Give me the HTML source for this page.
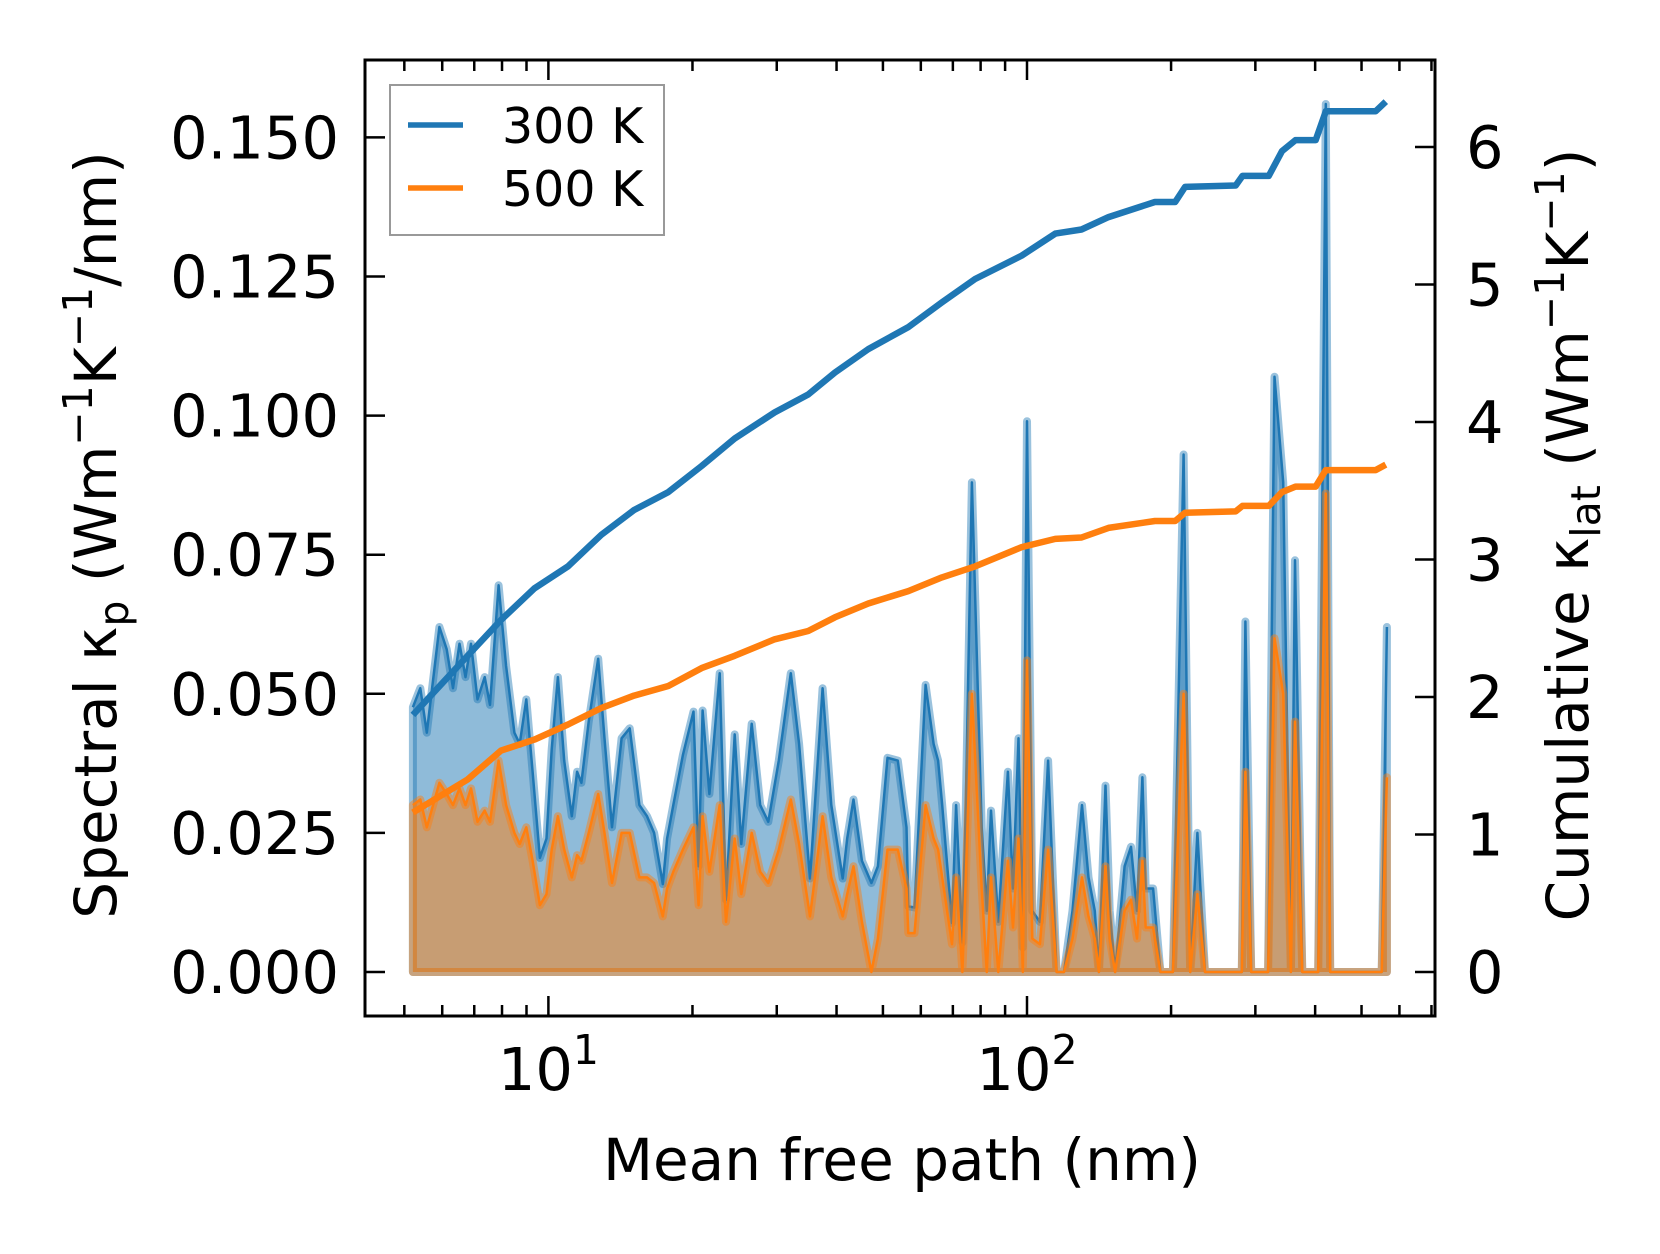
<!DOCTYPE html>
<html><head><meta charset="utf-8"><style>
html,body{margin:0;padding:0;background:#fff;}
svg{display:block;font-family:"DejaVu Sans","Liberation Sans",sans-serif;}
</style></head><body>
<svg id="chart" width="1660" height="1254" viewBox="0 0 1660 1254" xmlns="http://www.w3.org/2000/svg">
<rect width="1660" height="1254" fill="#fff"/>
<g id="plot"></g>
<g id="axes"></g>
<text x="902" y="1180" font-size="58" text-anchor="middle">Mean free path (nm)</text>
<text transform="translate(116,535) rotate(-90)" font-size="58" text-anchor="middle">Spectral κ<tspan dy="12" font-size="41">p</tspan><tspan dy="-12"> (Wm</tspan><tspan dy="-24" font-size="41">−1</tspan><tspan dy="24">K</tspan><tspan dy="-24" font-size="41">−1</tspan><tspan dy="24">/nm)</tspan></text>
<text transform="translate(1588,535) rotate(-90)" font-size="58" text-anchor="middle">Cumulative κ<tspan dy="12" font-size="41">lat</tspan><tspan dy="-12"> (Wm</tspan><tspan dy="-24" font-size="41">−1</tspan><tspan dy="24">K</tspan><tspan dy="-24" font-size="41">−1</tspan><tspan dy="24">)</tspan></text>
<g>
<rect x="390" y="85" width="274" height="150" fill="#fff" fill-opacity="0.8" stroke="#999" stroke-width="2"/>
<line x1="408" y1="125" x2="463" y2="125" stroke="#1f77b4" stroke-width="5.5"/>
<text x="502" y="143" font-size="49">300 K</text>
<line x1="408" y1="188" x2="463" y2="188" stroke="#ff7f0e" stroke-width="5.5"/>
<text x="502" y="206" font-size="49">500 K</text>
</g>
</svg>
<script>
const mfp = [5.21,5.40,5.57,5.92,6.13,6.32,6.52,6.71,6.89,7.11,7.36,7.55,7.87,8.16,8.49,8.71,8.99,9.27,9.60,9.91,10.16,10.47,10.79,11.19,11.48,11.72,12.14,12.71,13.10,13.58,14.22,14.79,15.49,16.07,16.63,17.34,17.70,18.24,19.10,20.1,20.6,21.0,21.7,22.8,23.5,24.5,25.3,26.6,27.7,28.8,30.3,32.1,33.4,35.2,37.4,39.0,41.2,42.1,43.4,45.2,47.3,48.8,51.1,53.7,56.0,56.5,58.2,61.4,63.8,65.2,66.5,69.7,71.1,73.3,74.5,76.7,80.4,82.4,84.1,87.1,91.2,93.5,96.0,98.0,100,102.6,106.4,110.7,115.3,119.5,124.5,130.3,134.4,138.6,141.3,145.9,148.9,152.8,159.9,164.9,169.8,174.2,177.0,183.4,190.0,201.8,212.4,219.3,227.0,235.5,281,286,294,319,329,343,356,363,376,394,406,421,430,551,565];
const spec300 = [.0476,.051,.043,.062,.058,.051,.059,.053,.059,.049,.053,.048,.0695,.055,.043,.041,.049,.036,.0205,.024,.040,.053,.038,.028,.036,.034,.045,.0563,.042,.026,.042,.0438,.030,.028,.025,.0158,.024,.030,.039,.0468,.019,.047,.032,.0537,.013,.0427,.023,.0446,.030,.027,.038,.0537,.041,.0168,.051,.030,.0168,.024,.031,.020,.016,.019,.0385,.038,.026,.0118,.0116,.0516,.041,.038,.030,.0088,.030,.0053,.030,.088,.026,.011,.029,.009,.036,.015,.042,.0044,.099,.011,.009,.038,0,0,.011,.030,.017,.011,0,.0335,.011,0,.019,.0225,.011,.035,.015,.015,0,0,.093,0,.025,0,0,.063,0,0,.107,.088,0,.074,0,0,0,.156,0,0,.062];
const spec500 = [.030,.031,.026,.034,.032,.030,.033,.030,.033,.027,.029,.027,.038,.030,.025,.023,.026,.020,.012,.014,.022,.028,.022,.017,.021,.020,.025,.032,.025,.016,.025,.025,.017,.017,.016,.010,.015,.018,.022,.026,.012,.028,.018,.030,.009,.024,.014,.025,.018,.016,.022,.031,.023,.010,.028,.017,.010,.014,.019,.009,0,.006,.022,.022,.015,.007,.007,.030,.024,.022,.017,.005,.017,0,.017,.050,.015,0,.017,0,.020,.008,.024,0,.056,.006,.005,.022,0,0,.006,.017,.010,.006,0,.019,.006,0,.011,.013,.006,.020,.008,.008,0,0,.050,0,.014,0,0,.036,0,0,.060,.050,0,.045,0,0,0,.086,0,0,.035];
const cumX = [5.21,6.78,7.96,9.35,10.99,12.9,15.1,17.8,20.9,24.5,29.7,34.9,39.7,46.6,56.5,66.4,77.9,97.5,114.6,130,148,185,204,214,273,282,320,341,364,401,421,535,562];
const cum300 = [1.87,2.30,2.56,2.79,2.95,3.18,3.36,3.49,3.68,3.88,4.07,4.20,4.36,4.53,4.69,4.87,5.04,5.21,5.37,5.40,5.49,5.60,5.60,5.71,5.72,5.79,5.79,5.97,6.05,6.05,6.26,6.26,6.33];
const cum500 = [1.16,1.40,1.61,1.69,1.80,1.92,2.01,2.08,2.21,2.30,2.42,2.48,2.58,2.68,2.77,2.87,2.95,3.09,3.15,3.16,3.23,3.28,3.28,3.34,3.35,3.39,3.39,3.49,3.53,3.53,3.65,3.65,3.69];
const leftTicks = [0,0.025,0.05,0.075,0.1,0.125,0.15];
const leftLabels = ["0.000","0.025","0.050","0.075","0.100","0.125","0.150"];
const rightTicks = [0,1,2,3,4,5,6];

const L=365,R=1435,T=60,B=1016;
function X(v){return 548.4+(Math.log10(v)-1)*478.6;}
function YL(v){return 972-v/0.025*139.1;}
function YR(v){return 972-v*137.5;}
const NS="http://www.w3.org/2000/svg";
function mk(tag,attrs,parent){const e=document.createElementNS(NS,tag);for(const k in attrs)e.setAttribute(k,attrs[k]);parent.appendChild(e);return e;}
const plot=document.getElementById('plot'), axes=document.getElementById('axes');

function spectral(vals,color,name){
  let pts=mfp.map((m,i)=>X(m).toFixed(1)+','+YL(vals[i]).toFixed(1));
  const poly=pts.join(' ')+' '+X(mfp[mfp.length-1]).toFixed(1)+','+YL(0)+' '+X(mfp[0]).toFixed(1)+','+YL(0);
  const f=mk('polygon',{points:poly,fill:color,'fill-opacity':0.5,stroke:color,'stroke-opacity':0.45,'stroke-width':8,'stroke-linejoin':'round'},plot);
  
  
  const l=mk('polyline',{points:pts.join(' '),fill:'none',stroke:color,'stroke-width':2.5,'stroke-linejoin':'round'},plot);
  
  
}
spectral(spec300,'#1f77b4','spectral-300k');
spectral(spec500,'#ff7f0e','spectral-500k');
function cum(vals,color,name){
  const pts=cumX.map((m,i)=>X(m).toFixed(1)+','+YR(vals[i]).toFixed(1)).join(' ');
  const l=mk('polyline',{points:pts,fill:'none',stroke:color,'stroke-width':6.5,'stroke-linejoin':'round'},plot);
  
  
}
cum(cum300,'#1f77b4','cumulative-300k');
cum(cum500,'#ff7f0e','cumulative-500k');

const fr=mk('rect',{x:L,y:T,width:R-L,height:B-T,fill:'none',stroke:'#000','stroke-width':3},axes);


for(let d=0;d<=2;d++){for(let k=1;k<10;k++){const v=k*Math.pow(10,d);const x=X(v);if(x<L||x>R)continue;const len=k==1?20:11;
 mk('line',{x1:x,y1:B,x2:x,y2:B-len,stroke:'#000','stroke-width':2.5},axes);
 mk('line',{x1:x,y1:T,x2:x,y2:T+len,stroke:'#000','stroke-width':2.5},axes);}}
[[10,'1'],[100,'2']].forEach(([v,e])=>{const t=mk('text',{x:X(v),y:1090,'font-size':59,'text-anchor':'middle'},axes);
 
 
 t.innerHTML='10<tspan dy="-26" font-size="41">'+e+'</tspan>';});
leftTicks.forEach((v,i)=>{const y=YL(v);mk('line',{x1:L,y1:y,x2:L+20,y2:y,stroke:'#000','stroke-width':2.5},axes);
 const t=mk('text',{x:339,y:y+21,'font-size':59,'text-anchor':'end'},axes);t.textContent=leftLabels[i];
 
 });
rightTicks.forEach(v=>{const y=YR(v);mk('line',{x1:R,y1:y,x2:R-20,y2:y,stroke:'#000','stroke-width':2.5},axes);
 const t=mk('text',{x:1466,y:y+21,'font-size':59},axes);t.textContent=v;
 
 });
</script>
</body></html>
